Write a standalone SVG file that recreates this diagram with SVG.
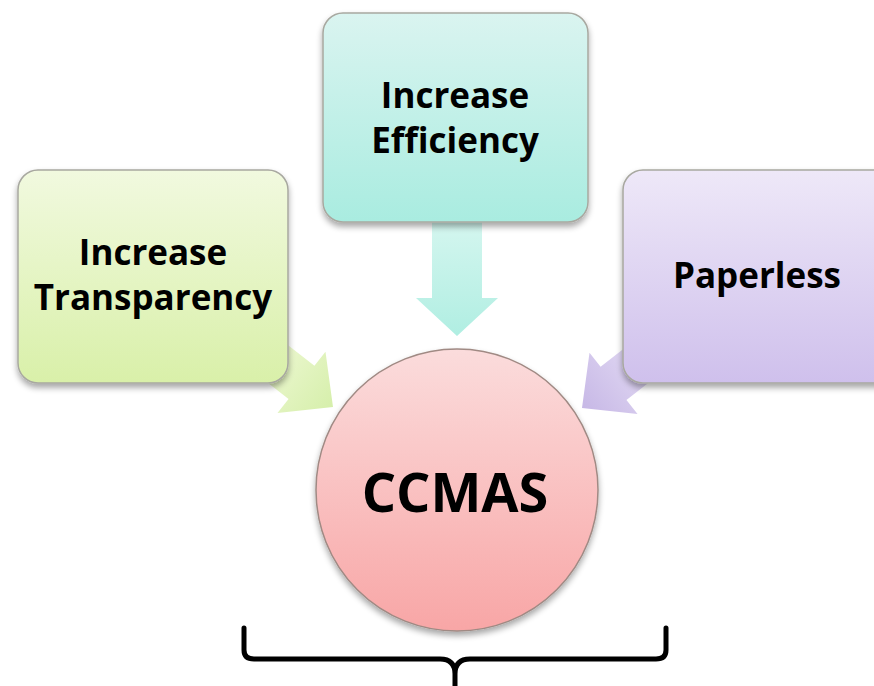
<svg xmlns="http://www.w3.org/2000/svg" width="874" height="686" viewBox="0 0 874 686">
  <style>
    .lbl { font-family: "Open Sans", "Liberation Sans", sans-serif; font-weight: bold; fill: #000; text-anchor: middle; }
    .box { stroke: #a8a8a0; stroke-width: 1.5; filter: url(#shadow); }
  </style>
  <defs>
    <filter id="shadow" x="-10%" y="-10%" width="125%" height="130%">
      <feGaussianBlur in="SourceAlpha" stdDeviation="3"/>
      <feOffset dx="0" dy="4" result="b"/>
      <feComponentTransfer><feFuncA type="linear" slope="0.35"/></feComponentTransfer>
      <feMerge><feMergeNode/><feMergeNode in="SourceGraphic"/></feMerge>
    </filter>
    <linearGradient id="gGreen" x1="0" y1="0" x2="0" y2="1">
      <stop offset="0" stop-color="#f1f9df"/>
      <stop offset="1" stop-color="#d9f0a9"/>
    </linearGradient>
    <linearGradient id="gTeal" x1="0" y1="0" x2="0" y2="1">
      <stop offset="0" stop-color="#daf4f0"/>
      <stop offset="1" stop-color="#a9ece0"/>
    </linearGradient>
    <linearGradient id="gPurple" x1="0" y1="0" x2="0" y2="1">
      <stop offset="0" stop-color="#eee8f8"/>
      <stop offset="1" stop-color="#cfc0ec"/>
    </linearGradient>
    <linearGradient id="gRed" x1="0" y1="0" x2="0" y2="1">
      <stop offset="0" stop-color="#fbdcdc"/>
      <stop offset="1" stop-color="#f8a6a6"/>
    </linearGradient>
    <linearGradient id="aTeal" x1="0" y1="0" x2="1" y2="0">
      <stop offset="0" stop-color="#d4f6ef"/>
      <stop offset="1" stop-color="#b0eee2"/>
    </linearGradient>
    <linearGradient id="aGreen" x1="0" y1="0" x2="1" y2="0">
      <stop offset="0" stop-color="#eef8d4"/>
      <stop offset="1" stop-color="#d6efab"/>
    </linearGradient>
    <linearGradient id="aPurple" x1="0" y1="0" x2="1" y2="0">
      <stop offset="0" stop-color="#e4dcf4"/>
      <stop offset="1" stop-color="#c7b8e6"/>
    </linearGradient>
  </defs>

  <rect width="874" height="686" fill="#fff"/>

  <!-- connectors: broad block arrows into the hub -->
  <g id="connectors">
    <polygon transform="translate(457,336) rotate(90)" fill="url(#aTeal)"
             points="-114,-25 -38,-25 -38,-41 0,0 -38,41 -38,25 -114,25"/>
    <polygon transform="translate(333,407) rotate(38)" fill="url(#aGreen)"
             points="-90,-21 -40,-21 -40,-39 0,0 -40,39 -40,21 -90,21"/>
    <polygon transform="translate(582,408) rotate(142)" fill="url(#aPurple)"
             points="-90,-21 -40,-21 -40,-39 0,0 -40,39 -40,21 -90,21"/>
  </g>

  <g id="transparency">
    <rect class="box" x="18" y="170" width="270" height="213" rx="20" fill="url(#gGreen)"/>
    <text class="lbl" x="153" y="265" font-size="35">Increase</text>
    <text class="lbl" x="153" y="310" font-size="35">Transparency</text>
  </g>

  <g id="efficiency">
    <rect class="box" x="323" y="13" width="265" height="209" rx="20" fill="url(#gTeal)"/>
    <text class="lbl" x="455" y="108" font-size="35">Increase</text>
    <text class="lbl" x="455" y="153" font-size="35">Efficiency</text>
  </g>

  <g id="paperless">
    <rect class="box" x="623" y="170" width="280" height="213" rx="20" fill="url(#gPurple)"/>
    <text class="lbl" x="757" y="288" font-size="35">Paperless</text>
  </g>

  <g id="ccmas">
    <circle cx="457" cy="490" r="141" fill="url(#gRed)" stroke="#a08a84" stroke-width="1.5" filter="url(#shadow)"/>
    <text class="lbl" x="455" y="512" font-size="54">CCMAS</text>
  </g>

  <!-- curly brace under the hub -->
  <g id="brace">
    <path d="M244,628 V650 Q244,659 254,659 H440 Q455,659 455,674 V686 M666,628 V650 Q666,659 656,659 H470 Q455,659 455,674"
          fill="none" stroke="#000" stroke-width="5" stroke-linecap="round" stroke-linejoin="round"/>
  </g>
</svg>
